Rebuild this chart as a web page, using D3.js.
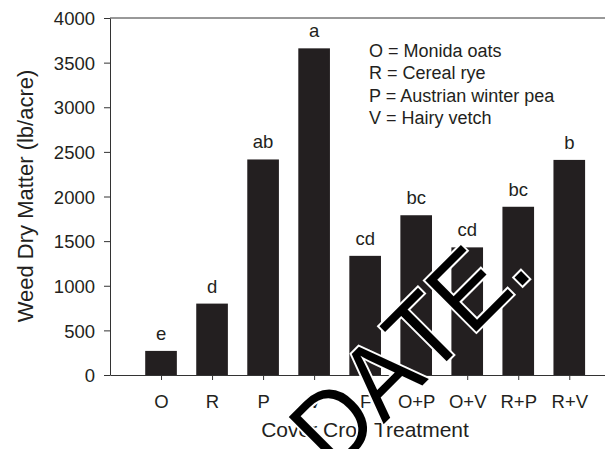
<!DOCTYPE html>
<html>
<head>
<meta charset="utf-8">
<script src="https://cdn.jsdelivr.net/npm/d3@7"></script>
<style>
  body { margin: 0; background: #fff; }
  svg text { font-family: "Liberation Sans", Arial, sans-serif; fill: #231f20; }
  .axis path, .axis line { stroke: #333; stroke-width: 1; }
</style>
</head>
<body>
<script>
const categories = ["O", "R", "P", "V", "F", "O+P", "O+V", "R+P", "R+V"];
const weedDryMatter = [270, 800, 2415, 3660, 1335, 1790, 1430, 1885, 2410];
const letters = ["e", "d", "ab", "a", "cd", "bc", "cd", "bc", "b"];
const yTicks = [0, 500, 1000, 1500, 2000, 2500, 3000, 3500, 4000];
const legendLines = ["O = Monida oats", "R = Cereal rye", "P = Austrian winter pea", "V = Hairy vetch"];

const W = 605, H = 449;
const plotLeft = 110, plotRight = 605, plotTop = 18, plotBottom = 375;

var svg = d3.select("body")
            .append("svg")
            .attr("width", W)
            .attr("height", H);

// categories sit at 1..9 on a continuous x axis
var xScale = d3.scaleLinear()
            .domain([0, 9.7])
            .range([plotLeft, plotRight]);

var yScale = d3.scaleLinear()
            .domain([0, 4000])
            .range([plotBottom, plotTop]);

var barW = xScale(0.62) - xScale(0);

// bars
svg.selectAll(".bar")
            .data(weedDryMatter)
            .enter()
            .append("rect")
            .attr("class", "bar")
            .attr("x", (d, i) => xScale(i + 1) - barW / 2)
            .attr("y", d => yScale(d))
            .attr("width", barW)
            .attr("height", d => plotBottom - yScale(d))
            .attr("fill", "#231f20");

// significance letters
svg.selectAll(".letter")
            .data(weedDryMatter)
            .enter()
            .append("text")
            .attr("class", "letter")
            .attr("x", (d, i) => xScale(i + 1))
            .attr("y", d => yScale(d) - 11)
            .attr("text-anchor", "middle")
            .style("font-size", "18.5px")
            .text((d, i) => letters[i]);

// axes
var yAxis = svg.append("g")
            .attr("class", "axis")
            .attr("transform", `translate(${plotLeft},0)`)
            .call(d3.axisLeft(yScale)
              .tickValues(yTicks)
              .tickSize(6)
              .tickSizeOuter(0)
              .tickPadding(9)
              .tickFormat(d3.format("d")));
yAxis.selectAll("text")
            .style("font-size", "18.5px")
            .attr("dy", "0.36em");

var xAxis = svg.append("g")
            .attr("class", "axis")
            .attr("transform", `translate(0,${plotBottom})`)
            .call(d3.axisBottom(xScale)
              .tickValues(d3.range(1, categories.length + 1))
              .tickSize(5)
              .tickSizeOuter(0)
              .tickFormat(d => categories[d - 1]));
xAxis.selectAll("text")
            .style("font-size", "18.5px")
            .attr("y", 33)
            .attr("dy", 0);

// top frame line
svg.append("line")
            .attr("x1", plotLeft).attr("x2", plotRight)
            .attr("y1", yScale(4000)).attr("y2", yScale(4000))
            .attr("stroke", "#333");

// axis titles
svg.append("text")
            .attr("transform", "translate(33,196) rotate(-90)")
            .attr("text-anchor", "middle")
            .style("font-size", "22px")
            .text("Weed Dry Matter (lb/acre)");

svg.append("text")
            .attr("x", 365)
            .attr("y", 437)
            .attr("text-anchor", "middle")
            .style("font-size", "21px")
            .text("Cover Crop Treatment");

// legend text block
svg.selectAll(".legend")
            .data(legendLines)
            .enter()
            .append("text")
            .attr("class", "legend")
            .attr("x", 369)
            .attr("y", (d, i) => 57 + i * 22.4)
            .style("font-size", "18px")
            .text(d => d);

// watermark stamped over the chart
svg.append("text")
            .attr("transform", "translate(334.2,473.8) rotate(-45) scale(0.92,1)")
            .style("font-size", "105px")
            .style("font-kerning", "none")
            .style("fill", "#000")
            .attr("stroke", "#fff")
            .attr("stroke-width", 4)
            .attr("paint-order", "stroke")
            .text("DATE.");
</script>
</body>
</html>
